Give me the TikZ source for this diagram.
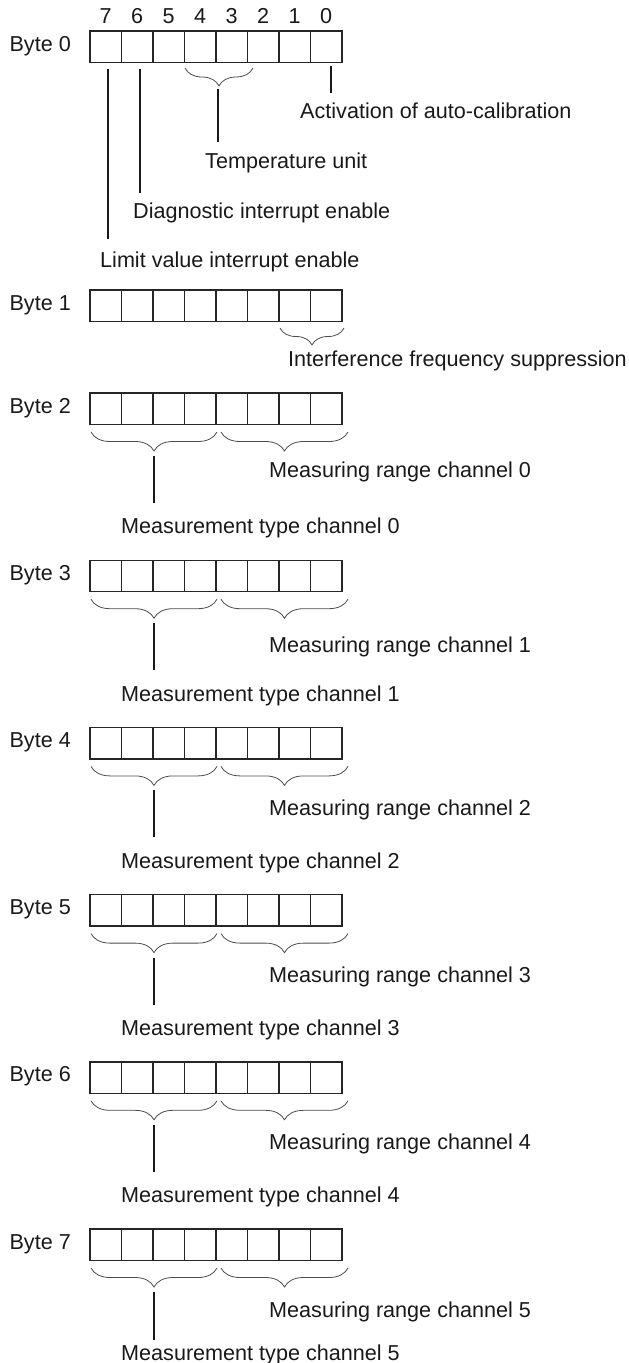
\documentclass[tikz,border=0pt]{standalone}
\usepackage{fontspec}
\setmainfont{Liberation Sans}
\usetikzlibrary{decorations.pathreplacing}
\tikzset{
  cellrow/.style={draw=black!85, line width=1.4pt},
  brc/.style={draw=black!70, line width=0.8pt, decorate, decoration={brace, mirror, amplitude=#1}},
  brc/.default=18pt,
  lead/.style={draw=black!90, line width=1.9pt},
  txt/.style={inner sep=0pt, font=\fontsize{21.6}{26}\selectfont, text=black!90},
  lbl/.style={txt, anchor=base west},
  bytelbl/.style={txt, anchor=base east},
  bitnum/.style={txt, anchor=base}
}
\newcommand\bytecells[1]{%
  \draw[cellrow] (90,#1) rectangle (342,#1+31.5);
  \foreach \k in {1,...,7}{\draw[cellrow] (90+\k*31.5,#1) -- ++(0,31.5);}
}
\begin{document}
\begin{tikzpicture}[x=1pt,y=-1pt]
\useasboundingbox (0,0) rectangle (629,1363);

% ---------- Byte 0 ----------
\node[bytelbl] (l0) at (71,51) {Byte 0};
\bytecells{31}
\foreach \d [count=\i from 0] in {7,6,5,4,3,2,1,0}{
  \node[bitnum] (n\d) at (105.75+\i*31.5,23) {\d};
}
\draw[brc] (185,68) -- (253,68);
\coordinate (b7s) at (108,69);  \coordinate (b7e) at (108,239);
\coordinate (b6s) at (140,69);  \coordinate (b6e) at (140,193);
\coordinate (tus) at (218,89);  \coordinate (tue) at (218,142);
\coordinate (b0s) at (331,66);  \coordinate (b0e) at (331,93);
\draw[lead] (b7s) -- (b7e);
\draw[lead] (b6s) -- (b6e);
\draw[lead] (tus) -- (tue);
\draw[lead] (b0s) -- (b0e);
\node[lbl] (act) at (300,118) {Activation of auto-calibration};
\node[lbl] (tmp) at (205,168) {Temperature unit};
\node[lbl] (dia) at (133,218) {Diagnostic interrupt enable};
\node[lbl] (lim) at (100,267) {Limit value interrupt enable};

% ---------- Byte 1 ----------
\node[bytelbl] (l1) at (71,310) {Byte 1};
\bytecells{290}
\draw[brc=17pt] (280,328) -- (344,328);
\node[lbl] (ifs) at (288,366) {Interference frequency suppression};

% ---------- Bytes 2..7 ----------
\foreach \T/\b/\c/\rb/\tb/\le in {393/2/0/84/140/110, 560.2/3/1/92/141/110, 727.4/4/2/88/141/110, 894.6/5/3/88/141/110, 1061.8/6/4/88/141/110, 1229/7/5/88/131/111}{
  \node[bytelbl] (l\b) at (71,\T+20) {Byte \b};
  \bytecells{\T}
  \draw[brc=19pt] (91,\T+39) -- (217,\T+39);
  \draw[brc=19pt] (221,\T+39) -- (348,\T+39);
  \coordinate (ms\c) at (154,\T+63);
  \coordinate (me\c) at (154,\T+\le);
  \draw[lead] (ms\c) -- (me\c);
  \node[lbl] (rng\c) at (269,\T+\rb) {Measuring range channel \c};
  \node[lbl] (typ\c) at (121,\T+\tb) {Measurement type channel \c};
}
\end{tikzpicture}
\end{document}
